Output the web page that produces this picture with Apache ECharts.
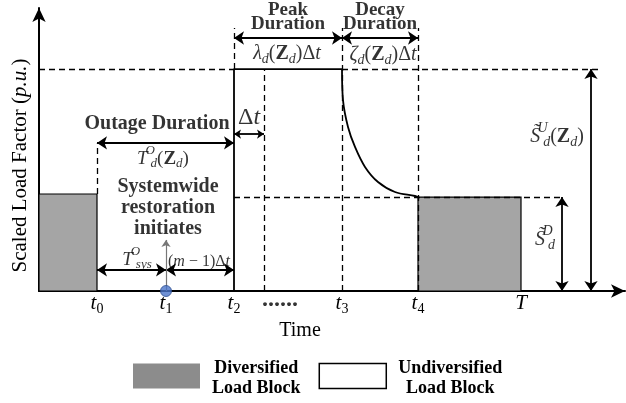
<!DOCTYPE html>
<html><head><meta charset="utf-8">
<script src="https://cdn.jsdelivr.net/npm/echarts@6/dist/echarts.min.js"></script>
<style>html,body{margin:0;padding:0;background:#fff}#c{width:626px;height:403px}</style>
</head><body><div id="c"></div>
<script>
// ---- data (time in arbitrary units, load factor in p.u. of peak) ----
const timeNames = ['t0', 't1', 't2', 't3', 't4', 'T'];
const timeValues = [5.8, 12.7, 19.5, 30.3, 37.9, 48.2];
const deltaTEnd = 22.5;              // t2 + Δt
const peakLevel = 1.0;               // undiversified peak
const diversifiedLeft = 0.437;       // pre-outage diversified level
const diversifiedRight = 0.423;      // post-restoration diversified level
const decayTime = [30.3, 30.4, 30.9, 31.6, 32.6, 33.9, 35.6, 37.6, 37.9];
const decayLevel = [1.0, 0.86, 0.739, 0.649, 0.559, 0.491, 0.446, 0.428, 0.423];
const legendNames = ['Diversified Load Block', 'Undiversified Load Block'];

const [t0, t1, t2, t3, t4, tEnd] = timeValues;
const F = 'Liberation Serif';

function rich(size, pmIn) {
  const sm = Math.round(size * 0.68);
  const pm = pmIn != null ? pmIn : Math.round(size * 0.3);
  const mainC = pm + size / 2;
  const supT = Math.max(0, Math.round(mainC - 0.42 * size - sm / 2));
  const subT = Math.round(mainC + 0.28 * size - sm / 2);
  const base = {fontFamily: F, color: '#000', verticalAlign: 'top'};
  return {
    i: Object.assign({}, base, {fontSize: size, fontStyle: 'italic', padding: [pm, 0, 0, 0]}),
    u: Object.assign({}, base, {fontSize: size, padding: [pm, 0, 0, 0]}),
    b: Object.assign({}, base, {fontSize: size, fontWeight: 'bold', padding: [pm, 0, 0, 0]}),
    s: Object.assign({}, base, {fontSize: sm, fontStyle: 'italic', padding: [subT, 0, 0, 0]}),
    n: Object.assign({}, base, {fontSize: sm, padding: [subT, 0, 0, 0]}),
    p: Object.assign({}, base, {fontSize: sm, fontStyle: 'italic', width: 1, padding: [supT, 0, 0, 2]})
  };
}

function tickText(name) {
  return name.length > 1 ? '{i|' + name[0] + '}{n|' + name.slice(1) + '}' : '{i|' + name + '}';
}

const boldNotes = [
  {at: [24.9, 1.236], text: 'Peak\nDuration', size: 19, lh: 14},
  {at: [34.1, 1.236], text: 'Decay\nDuration', size: 19, lh: 14},
  {at: [11.8, 0.752], text: 'Outage Duration', size: 20, lh: 20},
  {at: [12.9, 0.374], text: 'Systemwide\nrestoration\ninitiates', size: 20, lh: 21}
];
const mathNotes = [
  {at: [24.8, 1.077], text: '{i|λ}{s|d}{u|(}{b|Z}{s|d}{u|)Δ}{i|t}', size: 20},
  {at: [34.4, 1.072], text: '{i|ζ}{s|d}{u|(}{b|Z}{s|d}{u|)Δ}{i|t}', size: 20},
  {at: [21.0, 0.795], text: '{u|Δ}{i|t}', size: 24},
  {at: [12.4, 0.604], text: '{i|T}{p|O}{s|d}{u|(}{b|Z}{s|d}{u|)}', size: 19},
  {at: [9.8, 0.149], text: '{i|T}{p|O}{s|sys}', size: 19},
  {at: [16.0, 0.144], text: '{u|(}{i|m}{u| − 1)Δ}{i|t}', size: 16},
  {at: [51.8, 0.703], text: '{i|S\u0303}{p|U}{s|d}{u|(}{b|Z}{s|d}{u|)}', size: 20},
  {at: [50.6, 0.239], text: '{i|S\u0303}{p|D}{s|d}', size: 20}
];

const noteData = boldNotes.map(n => ({
  value: n.at,
  label: {show: true, position: 'inside', formatter: n.text, fontFamily: F, fontWeight: 'bold',
    fontSize: n.size, lineHeight: n.lh, color: '#000', align: 'center'}
})).concat(mathNotes.map(n => ({
  value: n.at,
  label: {show: true, position: 'inside', formatter: n.text, rich: rich(n.size), align: 'center'}
}))).concat([{
  value: [24.1, -0.04],
  label: {show: true, position: 'inside', formatter: '......', fontFamily: F, fontWeight: 'bold', fontSize: 24, color: '#000'}
}]);

const guideTop = 1.185, headerArrow = 1.14, outageArrow = 0.667, deltaArrow = 0.707, sysArrow = 0.095, t1ArrowTop = 0.23;
const sdX = 52.3, suX = 55.2;

const seg = (a, b, extra) => [Object.assign({coord: a}, extra || {}), {coord: b}];

const dashedLines = [
  seg([0, peakLevel], [t2, peakLevel]),
  seg([t3, peakLevel], [55.9, peakLevel]),
  seg([t2, diversifiedRight], [52.4, diversifiedRight]),
  seg([t0, diversifiedLeft], [t0, outageArrow]),
  seg([t2, peakLevel], [t2, guideTop]),
  seg([deltaTEnd, 0], [deltaTEnd, peakLevel]),
  seg([t3, 0], [t3, guideTop]),
  seg([t4, 0], [t4, guideTop])
];
const arrowLines = [
  seg([t2, headerArrow], [t3, headerArrow]),
  seg([t3, headerArrow], [t4, headerArrow]),
  seg([t0, outageArrow], [t2, outageArrow]),
  [{coord: [t2, deltaArrow], symbolSize: 7}, {coord: [deltaTEnd, deltaArrow], symbolSize: 7}],
  seg([t0, sysArrow], [t1, sysArrow]),
  seg([t1, sysArrow], [t2, sysArrow]),
  seg([sdX, 0], [sdX, diversifiedRight]),
  seg([suX, 0], [suX, peakLevel]),
  [{coord: [t1, 0], symbol: 'none', lineStyle: {color: '#777', width: 1.2}}, {coord: [t1, t1ArrowTop], symbol: 'arrow', symbolSize: 7}]
];

const blocks = [[0, t0, diversifiedLeft], [t4, tEnd, diversifiedRight]];

const option = {
  animation: false,
  backgroundColor: '#fff',
  grid: {left: 39, right: 1, top: 8, bottom: 112},
  xAxis: {
    type: 'value', min: 0, max: 58.6,
    axisLine: {show: true, symbol: ['none', 'arrow'], symbolSize: [10, 14], lineStyle: {color: '#000', width: 2}},
    axisTick: {show: false}, splitLine: {show: false},
    axisLabel: {
      show: true, customValues: timeValues, margin: 2,
      formatter: v => tickText(timeNames[timeValues.indexOf(v)]),
      rich: rich(21, 0)
    },
    name: 'Time', nameLocation: 'middle', nameGap: 26,
    nameTextStyle: {fontFamily: F, fontSize: 20, color: '#000', padding: [0, 64, 0, 0]}
  },
  yAxis: {
    type: 'value', min: 0, max: 1.275,
    axisLine: {show: true, symbol: ['none', 'arrow'], symbolSize: [10, 14], lineStyle: {color: '#000', width: 2}},
    axisTick: {show: false}, splitLine: {show: false}, axisLabel: {show: false},
    name: '{n|Scaled Load Factor (}{it|p.u.}{n|)}', nameLocation: 'middle', nameGap: 8, nameRotate: 90,
    nameTextStyle: {padding: [0, 32, 0, 0], rich: {
      n: {fontFamily: F, fontSize: 21, color: '#000'},
      it: {fontFamily: F, fontSize: 21, fontStyle: 'italic', color: '#000'}
    }}
  },
  legend: {
    left: 133, top: 359, padding: 0, itemWidth: 67, itemHeight: 25, itemGap: 18, icon: 'rect',
    selectedMode: false,
    data: [
      {name: legendNames[0], itemStyle: {color: '#8c8c8c', borderColor: '#8c8c8c', borderWidth: 0}},
      {name: legendNames[1], itemStyle: {color: '#fff', borderColor: '#000', borderWidth: 1.5}}
    ],
    formatter: name => '{a|' + name.replace(' Load Block', '') + '}\n{a|Load Block}',
    textStyle: {padding: [4, 0, 0, 7], rich: {a: {fontFamily: F, fontWeight: 'bold', fontSize: 18, lineHeight: 20, color: '#000', align: 'center'}}}
  },
  series: [
    {
      name: legendNames[0], type: 'custom', z: 1,
      data: blocks,
      renderItem: (params, api) => {
        const p0 = api.coord([api.value(0), api.value(2)]);
        const p1 = api.coord([api.value(1), 0]);
        return {type: 'rect', shape: {x: p0[0], y: p0[1], width: p1[0] - p0[0], height: p1[1] - p0[1]},
          style: {fill: '#a5a5a5', stroke: '#000', lineWidth: 1.2}};
      }
    },
    {
      name: legendNames[1], type: 'line', z: 3, symbol: 'none', silent: true,
      data: [[t2, 0], [t2, peakLevel], [t3, peakLevel]],
      lineStyle: {color: '#000', width: 1.8}
    },
    {
      name: 'decay', type: 'line', z: 3, symbol: 'none', silent: true, smooth: 0.35,
      data: decayTime.map((x, i) => [x, decayLevel[i]]),
      lineStyle: {color: '#000', width: 1.8}
    },
    {
      name: 'guides', type: 'line', data: [], z: 4,
      markLine: {silent: true, symbol: 'none', label: {show: false}, emphasis: {disabled: true},
        lineStyle: {color: '#000', width: 1.3, type: [6, 4]}, data: dashedLines}
    },
    {
      name: 'arrows', type: 'line', data: [], z: 5,
      markLine: {silent: true, symbol: ['arrow', 'arrow'], symbolSize: 10, label: {show: false}, emphasis: {disabled: true},
        lineStyle: {color: '#000', width: 1.8, type: 'solid'}, data: arrowLines}
    },
    {
      name: 'restoration', type: 'scatter', z: 6, silent: true,
      data: [[t1, 0]], symbolSize: 11,
      itemStyle: {color: '#4a74c9', borderColor: '#2e4f8f', borderWidth: 1}
    },
    {
      name: 'notes', type: 'scatter', z: 7, silent: true, clip: false,
      symbolSize: 0, data: noteData
    }
  ]
};
const chart = echarts.init(document.getElementById('c'), null, {renderer: 'canvas'});
chart.setOption(option);
</script></body></html>
